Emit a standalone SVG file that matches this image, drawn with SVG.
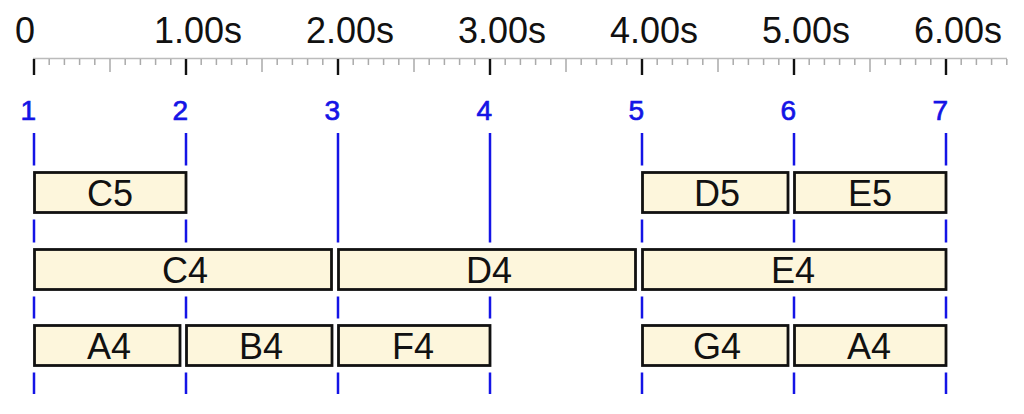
<svg xmlns="http://www.w3.org/2000/svg" width="1024" height="414" viewBox="0 0 1024 414">
<style>
.axislbl{font-family:"Liberation Sans",Arial,sans-serif;font-size:36px;fill:#111}
.num{font-family:"Liberation Sans",Arial,sans-serif;font-size:28px;fill:#1414e6;stroke:#1414e6;stroke-width:0.7;text-anchor:end}
.box rect{fill:#fdf6dc;stroke:#111;stroke-width:2.8}
.box text{font-family:"Liberation Sans",Arial,sans-serif;font-size:36px;fill:#111;text-anchor:middle}
.minor{stroke:#aaaaaa;stroke-width:1.5;fill:none}
.major{stroke:#111;stroke-width:2.4;fill:none}
.mark{stroke:#1414e6;stroke-width:2.5;fill:none}
</style>
<rect width="1024" height="414" fill="#fff"/>
<g id="axis">
<line x1="33" y1="58.5" x2="1007" y2="58.5" stroke="#bbbbbb" stroke-width="1.5"/>
<path class="minor" d="M49.2 59v6M64.4 59v6M79.6 59v6M94.8 59v6M110 59v13M125.2 59v6M140.4 59v6M155.6 59v6M170.8 59v6
M201.2 59v6M216.4 59v6M231.6 59v6M246.8 59v6M262 59v13M277.2 59v6M292.4 59v6M307.6 59v6M322.8 59v6
M353.2 59v6M368.4 59v6M383.6 59v6M398.8 59v6M414 59v13M429.2 59v6M444.4 59v6M459.6 59v6M474.8 59v6
M505.2 59v6M520.4 59v6M535.6 59v6M550.8 59v6M566 59v13M581.2 59v6M596.4 59v6M611.6 59v6M626.8 59v6
M657.2 59v6M672.4 59v6M687.6 59v6M702.8 59v6M718 59v13M733.2 59v6M748.4 59v6M763.6 59v6M778.8 59v6
M809.2 59v6M824.4 59v6M839.6 59v6M854.8 59v6M870 59v13M885.2 59v6M900.4 59v6M915.6 59v6M930.8 59v6
M961.2 59v6M976.4 59v6M991.6 59v6M1006.8 59v6"/>
<path class="major" d="M34 59v16M186 59v16M338 59v16M490 59v16M642 59v16M794 59v16M946 59v16"/>
<text class="axislbl" x="35" y="43" text-anchor="end">0</text>
<text class="axislbl" x="154" y="43">1.00s</text>
<text class="axislbl" x="306" y="43">2.00s</text>
<text class="axislbl" x="458" y="43">3.00s</text>
<text class="axislbl" x="610" y="43">4.00s</text>
<text class="axislbl" x="762" y="43">5.00s</text>
<text class="axislbl" x="914" y="43">6.00s</text>
</g>
<g id="markers">
<text class="num" x="36" y="120">1</text>
<text class="num" x="188" y="120">2</text>
<text class="num" x="340" y="120">3</text>
<text class="num" x="492" y="120">4</text>
<text class="num" x="644" y="120">5</text>
<text class="num" x="796" y="120">6</text>
<text class="num" x="948" y="120">7</text>
<path class="mark" d="M34 133V165.5M34 219.5V242.5M34 296.5V318.5M34 372.5V394
M186 133V165.5M186 219.5V242.5M186 296.5V318.5M186 372.5V394
M338 133V242.5M338 296.5V318.5M338 372.5V394
M490 133V242.5M490 296.5V318.5M490 372.5V394
M642 133V165.5M642 219.5V242.5M642 296.5V318.5M642 372.5V394
M794 133V165.5M794 219.5V242.5M794 296.5V318.5M794 372.5V394
M946 133V165.5M946 219.5V242.5M946 296.5V318.5M946 372.5V394"/>
</g>
<g id="row1">
<g id="C5" class="box"><rect x="34.5" y="172.5" width="151.5" height="40"/><text x="110" y="206">C5</text></g>
<g id="D5" class="box"><rect x="642.5" y="172.5" width="145.5" height="40"/><text x="717" y="206">D5</text></g>
<g id="E5" class="box"><rect x="794.5" y="172.5" width="151.5" height="40"/><text x="870" y="206">E5</text></g>
</g>
<g id="row2">
<g id="C4" class="box"><rect x="34.5" y="249.5" width="297" height="40"/><text x="185" y="283">C4</text></g>
<g id="D4" class="box"><rect x="338.5" y="249.5" width="297" height="40"/><text x="489" y="283">D4</text></g>
<g id="E4" class="box"><rect x="642.5" y="249.5" width="303.5" height="40"/><text x="793" y="283">E4</text></g>
</g>
<g id="row3">
<g id="A4a" class="box"><rect x="34.5" y="325.5" width="145.5" height="40"/><text x="109" y="359">A4</text></g>
<g id="B4" class="box"><rect x="186.5" y="325.5" width="145.5" height="40"/><text x="261" y="359">B4</text></g>
<g id="F4" class="box"><rect x="338.5" y="325.5" width="151.5" height="40"/><text x="413" y="359">F4</text></g>
<g id="G4" class="box"><rect x="642.5" y="325.5" width="145.5" height="40"/><text x="717" y="359">G4</text></g>
<g id="A4b" class="box"><rect x="794.5" y="325.5" width="151.5" height="40"/><text x="869" y="359">A4</text></g>
</g>
</svg>
